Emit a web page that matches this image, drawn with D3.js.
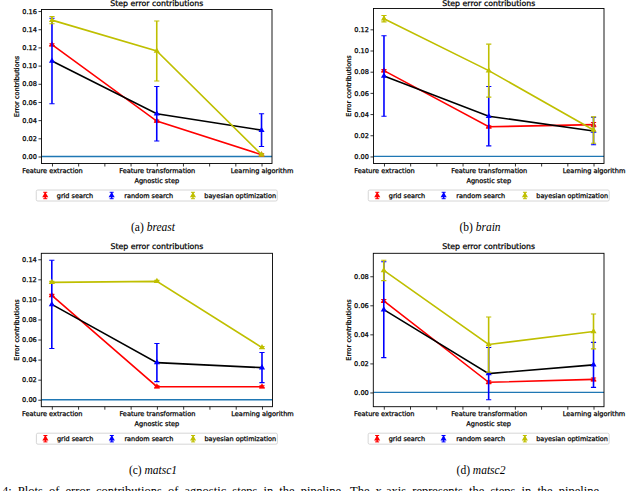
<!DOCTYPE html>
<html>
<head>
<meta charset="utf-8">
<script src="https://cdn.jsdelivr.net/npm/d3@7"></script>
<style>
  body { margin: 0; background: #fff; }
  text { font-family: 'DejaVu Sans', sans-serif; }
  .ink { stroke: #000; stroke-width: 0.25px; }
</style>
</head>
<body>
<div id="chart"></div>
<script>
// categories and legend names
var steps = ['Feature extraction', 'Feature transformation', 'Learning algorithm'];
var methods = ['grid search', 'random search', 'bayesian optimization'];
var xTickValues = [0, 0.25, 0.5, 0.75, 1, 1.25, 1.5, 1.75, 2];

// (a) breast  - rows: grid, random, bayesian ; columns: steps
var breastMeans  = [[0.123, 0.039, 0.002], [0.105, 0.047, 0.029], [0.150, 0.116, 0.002]];
var breastErrors = [[0.001, 0.001, 0.001], [0.047, 0.030, 0.018], [0.004, 0.033, 0.001]];
var breastTicks  = [0, 0.02, 0.04, 0.06, 0.08, 0.10, 0.12, 0.14, 0.16];

// (b) brain
var brainMeans  = [[0.081, 0.028, 0.030], [0.076, 0.038, 0.024], [0.130, 0.081, 0.025]];
var brainErrors = [[0.001, 0.001, 0.002], [0.038, 0.028, 0.013], [0.003, 0.025, 0.0125]];
var brainTicks  = [0, 0.02, 0.04, 0.06, 0.08, 0.10, 0.12];

// (c) matsc1
var matsc1Means  = [[0.104, 0.013, 0.013], [0.095, 0.037, 0.032], [0.117, 0.118, 0.052]];
var matsc1Errors = [[0.001, 0.001, 0.001], [0.044, 0.019, 0.015], [0.001, 0.001, 0.001]];
var matsc1Ticks  = [0, 0.02, 0.04, 0.06, 0.08, 0.10, 0.12, 0.14];

// (d) matsc2
var matsc2Means  = [[0.063, 0.007, 0.009], [0.057, 0.013, 0.019], [0.084, 0.033, 0.042]];
var matsc2Errors = [[0.001, 0.001, 0.001], [0.033, 0.018, 0.0155], [0.007, 0.019, 0.012]];
var matsc2Ticks  = [0, 0.02, 0.04, 0.06, 0.08];

var captions = ['breast', 'brain', 'matsc1', 'matsc2'];
var captionLetters = ['(a)', '(b)', '(c)', '(d)'];

// styles
var markerColors = ['#ff0000', '#0000ff', '#bfbf00'];
var lineColors   = ['#ff0000', '#000000', '#bfbf00'];
var zeroColor = '#1f77b4';

var panels = [
  {means: breastMeans, errors: breastErrors, ticks: breastTicks, left: 41.5, right: 272, top: 9.5, bottom: 163.5, capX: 153},
  {means: brainMeans, errors: brainErrors, ticks: brainTicks, left: 373.5, right: 604, top: 8.5, bottom: 163.5, capX: 480},
  {means: matsc1Means, errors: matsc1Errors, ticks: matsc1Ticks, left: 41.3, right: 272.5, top: 253.3, bottom: 406.7, capX: 153},
  {means: matsc2Means, errors: matsc2Errors, ticks: matsc2Ticks, left: 373.3, right: 604, top: 253.3, bottom: 406.7, capX: 481}
];

var svg = d3.select('#chart').append('svg')
    .attr('width', 640)
    .attr('height', 491);

svg.append('rect').attr('width', 640).attr('height', 491).attr('fill', '#fff');

var tri = d3.symbol().type(d3.symbolTriangle).size(16);

panels.forEach(function(p, pi) {
  var g = svg.append('g');

  var x = d3.scaleLinear().domain([-0.1, 2.1]).range([p.left, p.right]);

  // autoscale like matplotlib: data (incl. error bars and zero line) + 5% margins
  var lo = 0, hi = 0;
  p.means.forEach(function(m, i) {
    m.forEach(function(v, j) {
      lo = Math.min(lo, v - p.errors[i][j]);
      hi = Math.max(hi, v + p.errors[i][j]);
    });
  });
  var pad = (hi - lo) * 0.05;
  var y = d3.scaleLinear().domain([lo - pad, hi + pad]).range([p.bottom, p.top]);

  var clipId = 'clip' + pi;
  g.append('clipPath').attr('id', clipId)
    .append('rect')
      .attr('x', p.left).attr('y', p.top)
      .attr('width', p.right - p.left).attr('height', p.bottom - p.top);

  var plot = g.append('g').attr('clip-path', 'url(#' + clipId + ')');

  // zero line
  plot.append('line')
    .attr('x1', p.left).attr('x2', p.right)
    .attr('y1', y(0)).attr('y2', y(0))
    .attr('stroke', zeroColor).attr('stroke-width', 1.3);

  var line = d3.line()
    .x(function(d, j) { return x(j); })
    .y(function(d) { return y(d); });

  p.means.forEach(function(m, i) {
    var s = plot.append('g');
    s.append('path')
      .datum(m)
      .attr('d', line)
      .attr('fill', 'none')
      .attr('stroke', lineColors[i])
      .attr('stroke-width', 1.6);

    var pts = m.map(function(v, j) { return {j: j, v: v, e: p.errors[i][j]}; });

    var bars = s.selectAll('.bar').data(pts).enter().append('g');
    bars.append('line')
      .attr('x1', function(d) { return x(d.j); })
      .attr('x2', function(d) { return x(d.j); })
      .attr('y1', function(d) { return y(d.v - d.e); })
      .attr('y2', function(d) { return y(d.v + d.e); })
      .attr('stroke', markerColors[i]).attr('stroke-width', 1.6);
    [-1, 1].forEach(function(sign) {
      bars.append('line')
        .attr('x1', function(d) { return x(d.j) - 2.6; })
        .attr('x2', function(d) { return x(d.j) + 2.6; })
        .attr('y1', function(d) { return y(d.v + sign * d.e); })
        .attr('y2', function(d) { return y(d.v + sign * d.e); })
        .attr('stroke', markerColors[i]).attr('stroke-width', 1.1);
    });

    s.selectAll('.mk').data(pts).enter().append('path')
      .attr('d', tri)
      .attr('transform', function(d) { return 'translate(' + x(d.j) + ',' + y(d.v) + ')'; })
      .attr('fill', markerColors[i]);
  });

  // axes
  var xAxis = d3.axisBottom(x)
    .tickValues(xTickValues)
    .tickSize(3)
    .tickPadding(2)
    .tickFormat(function(d) { return Number.isInteger(d) ? steps[d] : ''; });

  var yAxis = d3.axisLeft(y)
    .tickValues(p.ticks)
    .tickSize(3)
    .tickPadding(1.5)
    .tickFormat(d3.format('.2f'));

  var gx = g.append('g')
    .attr('transform', 'translate(0,' + p.bottom + ')')
    .call(xAxis);
  var gy = g.append('g')
    .attr('transform', 'translate(' + p.left + ',0)')
    .call(yAxis);

  [gx, gy].forEach(function(ax) {
    ax.select('.domain').remove();
    ax.selectAll('line').attr('stroke', '#000').attr('stroke-width', 0.8);
    ax.selectAll('text')
      .attr('class', 'ink')
      .attr('font-family', 'DejaVu Sans')
      .attr('font-size', 6.6)
      .attr('fill', '#000');
  });

  // frame
  g.append('rect')
    .attr('x', p.left).attr('y', p.top)
    .attr('width', p.right - p.left).attr('height', p.bottom - p.top)
    .attr('fill', 'none').attr('stroke', '#000').attr('stroke-width', 0.9);

  var cx = (p.left + p.right) / 2;

  g.append('text')
    .attr('class', 'ink')
    .attr('x', cx).attr('y', Math.max(p.top - 4.5, 6.2))
    .attr('text-anchor', 'middle')
    .attr('font-size', 7.8)
    .text('Step error contributions');

  g.append('text')
    .attr('class', 'ink')
    .attr('x', cx).attr('y', p.bottom + 19.5)
    .attr('text-anchor', 'middle')
    .attr('font-size', 6.6)
    .text('Agnostic step');

  g.append('text')
    .attr('class', 'ink')
    .attr('transform', 'translate(' + (p.left - 22.5) + ',' + ((p.top + p.bottom) / 2) + ') rotate(-90)')
    .attr('text-anchor', 'middle')
    .attr('font-size', 6.6)
    .text('Error contributions');

  // legend
  var lw = 241, lh = 11;
  var lx = cx - lw / 2, ly = p.bottom + 32 - lh / 2;
  var legend = g.append('g').attr('transform', 'translate(' + lx + ',' + ly + ')');
  legend.append('rect')
    .attr('width', lw).attr('height', lh).attr('rx', 1.5)
    .attr('fill', '#fff').attr('stroke', '#cccccc').attr('stroke-width', 0.8);

  var itemX = [9, 75.4, 156.7];
  var textX = [20.5, 88, 168];
  var items = legend.selectAll('.item').data(methods).enter().append('g');
  items.append('line')
    .attr('x1', function(d, i) { return itemX[i]; })
    .attr('x2', function(d, i) { return itemX[i]; })
    .attr('y1', lh / 2 - 3.2).attr('y2', lh / 2 + 3.2)
    .attr('stroke', function(d, i) { return markerColors[i]; })
    .attr('stroke-width', 1.4);
  [-3.2, 3.2].forEach(function(off) {
    items.append('line')
      .attr('x1', function(d, i) { return itemX[i] - 2; })
      .attr('x2', function(d, i) { return itemX[i] + 2; })
      .attr('y1', lh / 2 + off).attr('y2', lh / 2 + off)
      .attr('stroke', function(d, i) { return markerColors[i]; })
      .attr('stroke-width', 1);
  });
  items.append('path')
    .attr('d', tri)
    .attr('transform', function(d, i) { return 'translate(' + itemX[i] + ',' + (lh / 2) + ')'; })
    .attr('fill', function(d, i) { return markerColors[i]; });
  items.append('text')
    .attr('class', 'ink')
    .attr('x', function(d, i) { return textX[i]; })
    .attr('y', lh / 2)
    .attr('dy', '0.35em')
    .attr('font-size', 6.5)
    .text(function(d) { return d; });

  // sub-caption
  var cap = g.append('text')
    .attr('x', p.capX).attr('y', p.bottom + 67.5)
    .attr('text-anchor', 'middle')
    .attr('font-size', 11.5)
    .style('font-family', 'Liberation Serif, serif');
  cap.append('tspan').text(captionLetters[pi] + ' ');
  cap.append('tspan').attr('font-style', 'italic').text(captions[pi]);
});

// figure caption, cut at the bottom of the picture as in the source page
svg.append('text')
  .attr('x', 2).attr('y', 495)
  .style('font-family', 'Liberation Serif, serif')
  .attr('font-size', 12.5)
  .attr('word-spacing', 3)
  .text('4: Plots of error contributions of agnostic steps in the pipeline. The x-axis represents the steps in the pipeline.');
</script>
</body>
</html>
